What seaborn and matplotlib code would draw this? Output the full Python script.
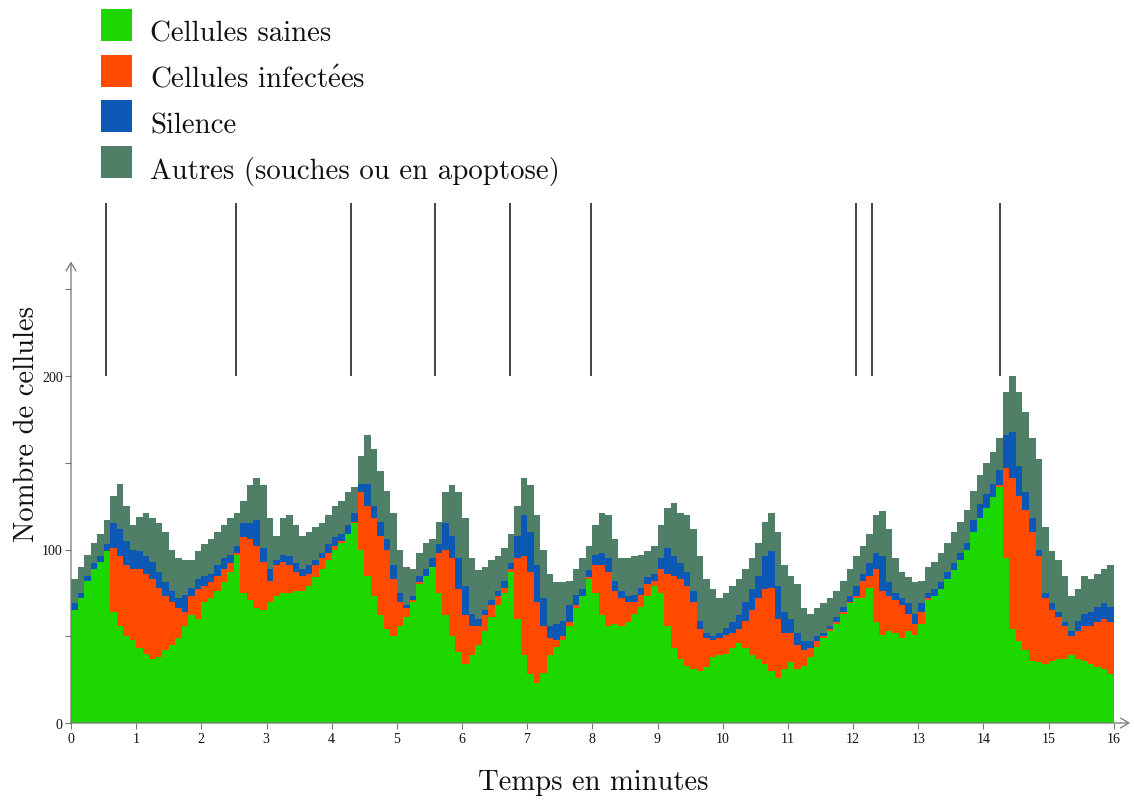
import numpy as np
import pandas as pd
import matplotlib.pyplot as plt
import seaborn as sns
from matplotlib.patches import Rectangle

# one value every 0.1 minute, from 0 to 15.9
step = 0.1
healthy = [65, 72, 82, 89, 93, 99, 64, 56, 50, 48,
           43, 40, 37, 38, 42, 45, 49, 56, 62, 60,
           70, 72, 76, 81, 87, 97, 75, 71, 66, 65,
           70, 73, 75, 75, 76, 76, 79, 84, 89, 94,
           100, 104, 109, 115, 100, 85, 73, 62, 54, 50,
           56, 61, 70, 80, 85, 90, 75, 62, 50, 41,
           34, 39, 45, 53, 61, 68, 75, 87, 60, 39,
           28, 23, 29, 39, 44, 48, 56, 66, 73, 83,
           75, 62, 56, 57, 56, 58, 63, 67, 73, 79,
           75, 56, 43, 37, 33, 31, 30, 32, 38, 39,
           40, 43, 46, 43, 39, 37, 34, 30, 26, 31,
           35, 31, 33, 38, 44, 49, 53, 57, 63, 69,
           72, 72, 78, 58, 51, 53, 52, 49, 53, 51,
           57, 71, 73, 77, 83, 88, 94, 100, 110, 118,
           124, 130, 136, 95, 54, 47, 42, 36, 35, 34,
           36, 37, 37, 39, 37, 36, 34, 32, 31, 28]
infected = [0, 0, 0, 0, 0, 0, 37, 40, 41, 41,
            46, 46, 46, 40, 31, 25, 17, 8, 11, 17,
            9, 9, 9, 8, 5, 1, 32, 35, 36, 28,
            12, 18, 18, 16, 11, 9, 7, 7, 6, 4,
            2, 1, 0, 1, 33, 40, 45, 46, 46, 33,
            14, 5, 1, 1, 0, 0, 23, 38, 45, 36,
            28, 17, 11, 9, 7, 5, 3, 2, 35, 57,
            59, 47, 27, 10, 4, 2, 2, 2, 0, 1,
            16, 29, 31, 19, 16, 12, 7, 7, 7, 3,
            14, 30, 42, 46, 46, 39, 24, 17, 10, 10,
            11, 9, 8, 16, 26, 35, 43, 48, 34, 21,
            17, 14, 9, 5, 3, 1, 1, 1, 1, 1,
            1, 10, 7, 31, 25, 20, 19, 19, 10, 6,
            7, 1, 0, 0, 0, 0, 0, 0, 0, 0,
            0, 0, 1, 52, 87, 84, 81, 74, 61, 38,
            29, 24, 19, 11, 16, 20, 22, 26, 29, 30]
silence = [4, 3, 3, 3, 3, 4, 14, 16, 14, 11,
           10, 10, 10, 9, 8, 6, 6, 10, 5, 6,
           6, 5, 6, 6, 5, 4, 8, 9, 15, 8,
           7, 3, 4, 5, 5, 4, 5, 3, 3, 5,
           5, 4, 5, 5, 5, 13, 7, 8, 6, 8,
           5, 2, 2, 4, 4, 5, 5, 15, 13, 18,
           17, 7, 4, 3, 3, 3, 4, 3, 13, 24,
           23, 21, 16, 7, 9, 9, 10, 6, 4, 4,
           6, 7, 8, 6, 4, 3, 4, 4, 4, 4,
           6, 15, 11, 9, 8, 6, 5, 3, 2, 3,
           4, 6, 8, 11, 12, 13, 19, 21, 19, 12,
           8, 7, 5, 4, 3, 2, 2, 3, 3, 3,
           6, 4, 7, 9, 20, 8, 4, 4, 6, 6,
           5, 3, 4, 4, 4, 4, 4, 4, 7, 8,
           8, 8, 9, 19, 27, 17, 10, 8, 4, 3,
           4, 3, 2, 3, 6, 7, 8, 9, 9, 9]
others = [14, 15, 12, 12, 13, 14, 16, 26, 20, 14,
          20, 25, 25, 28, 29, 24, 23, 20, 16, 16,
          18, 20, 19, 19, 21, 19, 13, 22, 24, 36,
          29, 14, 21, 24, 22, 19, 19, 19, 17, 17,
          18, 19, 19, 15, 16, 28, 33, 29, 28, 30,
          25, 22, 16, 13, 15, 11, 13, 18, 29, 38,
          39, 32, 28, 25, 23, 20, 19, 17, 17, 21,
          27, 29, 28, 30, 24, 22, 14, 15, 18, 14,
          17, 23, 25, 24, 19, 22, 22, 19, 15, 16,
          19, 23, 31, 29, 33, 36, 37, 31, 27, 20,
          20, 21, 21, 19, 18, 19, 20, 22, 31, 27,
          25, 28, 19, 16, 16, 17, 16, 15, 15, 16,
          17, 16, 17, 22, 26, 31, 20, 15, 15, 18,
          13, 15, 16, 17, 17, 18, 18, 19, 17, 17,
          18, 18, 18, 25, 32, 43, 46, 46, 52, 38,
          30, 30, 27, 20, 18, 22, 19, 19, 20, 24]

# instants marked by the vertical bars above the curves
events = [0.54, 2.53, 4.3, 5.58, 6.73, 7.98, 12.04, 12.29, 14.25]

series = ["healthy", "infected", "silence", "others"]
# the accent comes from mathtext (cmr10 has no é glyph)
labels = ["Cellules saines", r"Cellules infect$\acute{\mathrm{e}}$es", "Silence",
          "Autres (souches ou en apoptose)"]
colors = ["#1dd800", "#ff4a00", "#0b59b5", "#4f7f67"]

sns.set_theme(style="white")
serif_cm = ["cmr10", "DejaVu Serif"]
serif_tick = ["Liberation Serif", "DejaVu Serif"]
plt.rcParams["axes.formatter.use_mathtext"] = True
plt.rcParams["mathtext.fontset"] = "cm"

df = pd.DataFrame({"healthy": healthy, "infected": infected,
                   "silence": silence, "others": others})
df["temps"] = np.arange(len(df)) * step
# close the last step at t = 16
end = df.iloc[[-1]].copy()
end["temps"] = len(df) * step
df = pd.concat([df, end], ignore_index=True)
cum = df[series].cumsum(axis=1)

fig = plt.figure(figsize=(11.34, 8.03), dpi=100)
ax = fig.add_axes([71 / 1134, 79 / 803, 1059 / 1134, 520.5 / 803])

lower = np.zeros(len(df))
for s, c in zip(series, colors):
    ax.fill_between(df["temps"], lower, cum[s], step="post",
                    facecolor=c, edgecolor="none", linewidth=0)
    lower = cum[s].values

ax.vlines(events, 200, 300, color="#111111", linewidth=1.1)

ax.set_xlim(0, 16.25)
ax.set_ylim(0, 300)
for sp in ax.spines.values():
    sp.set_visible(False)
arrow = dict(arrowstyle="->,head_length=0.5,head_width=0.3", color="#777777",
             lw=0.9, shrinkA=0, shrinkB=0)
ax.annotate("", xy=(0, 266), xytext=(0, 0), arrowprops=arrow, annotation_clip=False)
ax.annotate("", xy=(16.25, 0), xytext=(0, 0), arrowprops=arrow, annotation_clip=False)

ax.set_xticks(range(0, 17))
ax.set_yticks(range(0, 251, 50))
ax.set_yticklabels([str(v) if v % 100 == 0 else "" for v in range(0, 251, 50)])
ax.tick_params(axis="both", which="major", direction="out", length=4, width=0.8,
               color="#777777", labelsize=10, labelcolor="#111111", pad=2,
               bottom=True, left=True)
for lab in ax.get_xticklabels() + ax.get_yticklabels():
    lab.set_family(serif_tick)
ax.grid(False)

fig.text(593 / 1134, 1 - 783 / 803, "Temps en minutes", family=serif_cm,
         fontsize=20.6, ha="center", va="center", color="#111111")
fig.text(27 / 1134, 1 - 424 / 803, "Nombre de cellules", family=serif_cm,
         fontsize=20.6, ha="center", va="center", rotation=90, color="#111111")

# legend drawn by hand at the top left
for i, (lab, c) in enumerate(zip(labels, colors)):
    top = 10 + i * 45.5
    fig.add_artist(Rectangle((101 / 1134, 1 - (top + 32) / 803), 31 / 1134, 32 / 803,
                             transform=fig.transFigure, facecolor=c, edgecolor="none"))
    fig.text(150 / 1134, 1 - (top + 32) / 803, lab, family=serif_cm, fontsize=20.8,
             ha="left", va="baseline", color="#111111")

fig.savefig("out.png", dpi=100)
